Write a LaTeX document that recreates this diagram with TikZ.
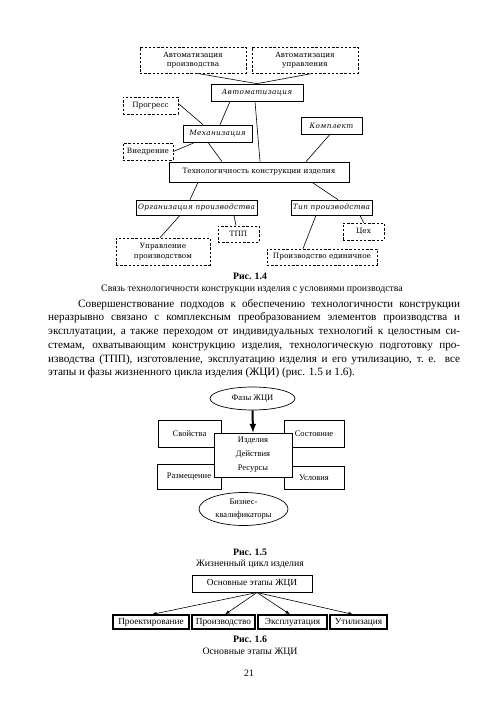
\documentclass[tikz,border=0pt]{standalone}
\usepackage{fontspec}
\setmainfont{Liberation Serif}
\newfontfamily\shemafont{DejaVu Serif}
\newfontfamily\razrfont[LetterSpace=5]{DejaVu Serif}
\usepackage{tikz}
\usetikzlibrary{shapes.geometric, arrows}

\begin{document}
\begin{tikzpicture}[x=1pt, y=-1pt]
        \tikzstyle{every node} = [inner sep=0pt]
        \tikzstyle{blok}       = [draw, line width=0.7pt, align=center, font=\shemafont\fontsize{7.3}{9.5}\selectfont]
        \tikzstyle{kursiv}     = [blok, font=\razrfont\itshape\fontsize{7.3}{9}\selectfont]
        \tikzstyle{punktir}    = [blok, dash pattern=on 2.4pt off 1.8pt]
        \tikzstyle{svyaz}      = [line width=0.6pt]
        \tikzstyle{ramka}      = [draw, line width=0.7pt, fill=white, align=center, font=\fontsize{8.5}{14}\selectfont]
        \tikzstyle{oval}       = [ramka, ellipse]
        \tikzstyle{etap}       = [ramka, line width=1.2pt, font=\fontsize{9.3}{11}\selectfont]
        \def\podpis{\fontsize{9.8}{11}\selectfont}

        \useasboundingbox[fill=white] (0,0) rectangle (500,708);

        % Рис. 1.4
        \node[punktir, minimum width=106, minimum height=26] (avtpr)  at (193,60)      {Автоматизация\\производства};
        \node[punktir, minimum width=106, minimum height=26] (avtupr) at (305,60)      {Автоматизация\\управления};
        \node[kursiv,  minimum width=92,  minimum height=17] (avt)    at (257,92.5)    {Автоматизация};
        \node[punktir, minimum width=55,  minimum height=17] (progr)  at (150.5,105.5) {Прогресс};
        \node[kursiv,  minimum width=69,  minimum height=17] (mech)   at (217.5,133.5) {Механизация};
        \node[kursiv,  minimum width=61,  minimum height=17] (kompl)  at (331.5,125.5) {Комплект};
        \node[punktir, minimum width=50,  minimum height=17] (vnedr)  at (148,151.5)   {Внедрение};
        \node[blok,    minimum width=180, minimum height=20] (tech)   at (259,172)     {Технологичность конструкции изделия};
        \node[kursiv,  minimum width=121, minimum height=15] (org)    at (196.5,207.5) {Организация производства};
        \node[kursiv,  minimum width=81,  minimum height=15] (tip)    at (331.5,207.5) {Тип производства};
        \node[punktir, minimum width=41,  minimum height=16] (tpp)    at (238.5,234)   {ТПП};
        \node[punktir, minimum width=94,  minimum height=27] (upr)    at (163,251.5)   {Управление\\производством};
        \node[punktir, minimum width=41,  minimum height=17] (cekh)   at (363.5,231.5) {Цех};
        \node[punktir, minimum width=110, minimum height=16] (edin)   at (322,257)     {Производство единичное};

        \draw[svyaz] ([xshift=4]avtpr.south) -- (avt.north);
        \draw[svyaz] ([xshift=8]avtupr.south) -- (avt.north);
        \draw[svyaz] ([yshift=2]progr.east) -- ([xshift=-14.5]mech.north);
        \draw[svyaz] ([xshift=2.5]mech.north) -- ([xshift=-27]avt.south);
        \draw[svyaz] ([xshift=-2]avt.south) -- ([xshift=1]tech.north);
        \draw[svyaz] (vnedr.east) -- ([xshift=-22.5]mech.south);
        \draw[svyaz] ([xshift=-9.5]mech.south) -- ([xshift=-37]tech.north);
        \draw[svyaz] ([xshift=-1.5]kompl.south) -- ([xshift=47]tech.north);
        \draw[svyaz] ([xshift=-61]tech.south) -- ([xshift=-6.5]org.north);
        \draw[svyaz] ([xshift=53]tech.south) -- ([xshift=6.5]tip.north);
        \draw[svyaz] ([xshift=-16.5]org.south) -- ([xshift=-3]upr.north);
        \draw[svyaz] ([xshift=37.5]org.south) -- ([xshift=-2.5]tpp.north);
        \draw[svyaz] ([xshift=-15.5]tip.south) -- ([xshift=-19]edin.north);
        \draw[svyaz] ([xshift=28.5]tip.south) -- (cekh.north);

        \node[font=\podpis\bfseries] (ris4) at (250,276) {Рис. 1.4};
        \node[font=\podpis] (nazv4) at (252,289) {Связь технологичности конструкции изделия с условиями производства};

        % Текст
        \node[anchor=north west, text width=412pt, align=justify, font=\fontsize{11.2}{13.7}\selectfont] (tekst) at (48,299)
            {\hyphenpenalty=10000\hspace*{30pt}Совершенствование подходов к обеспечению технологичности конструкции\linebreak
            неразрывно связано с комплексным преобразованием элементов производства и\linebreak
            эксплуатации, а также переходом от индивидуальных технологий к целостным си-\linebreak
            стемам, охватывающим конструкцию изделия, технологическую подготовку про-\linebreak
            изводства (ТПП), изготовление, эксплуатацию изделия и его утилизацию, т.~е. все\linebreak
            этапы и фазы жизненного цикла изделия (ЖЦИ) (рис. 1.5 и 1.6).};

        % Рис. 1.5
        \node[ramka, minimum width=63, minimum height=27] (svoj)  at (189.5,433.5) {Свойства};
        \node[ramka, minimum width=60, minimum height=27] (sost)  at (314,433.5)   {Состояние};
        \node[ramka, minimum width=64, minimum height=25] (razm)  at (189,476.5)   {Размещение};
        \node[ramka, minimum width=60, minimum height=23] (usl)   at (314,477.5)   {Условия};
        \node[ramka, minimum width=78, minimum height=44] (izd)   at (253,455)     {Изделия\\Действия\\Ресурсы};
        \node[oval,  minimum width=85, minimum height=23] (fazy)  at (252.5,398.5) {Фазы ЖЦИ};
        \node[oval,  minimum width=89, minimum height=33, font=\fontsize{8.5}{13}\selectfont] (biz) at (243.5,509) {Бизнес-\\квалификаторы};
        \draw[line width=2pt, -latex] (fazy.south) -- (izd.north);

        \node[font=\podpis\bfseries] (ris5) at (250,552) {Рис. 1.5};
        \node[font=\podpis] (nazv5) at (250,564) {Жизненный цикл изделия};

        % Рис. 1.6
        \node[etap, line width=1pt, minimum width=120, minimum height=17] (osn) at (252,583.5) {Основные этапы ЖЦИ};
        \node[etap, minimum width=76, minimum height=14] (proekt) at (151,622)   {Проектирование};
        \node[etap, minimum width=63, minimum height=14] (proizv) at (223.5,622) {Производство};
        \node[etap, minimum width=69, minimum height=14] (ekspl)  at (292.5,622) {Эксплуатация};
        \node[etap, minimum width=57, minimum height=14] (util)   at (358.5,622) {Утилизация};
        \foreach \e/\dx in {proekt/1, proizv/1.5, ekspl/-2.5, util/-5.5}
            \draw[svyaz, -latex] ([xshift=5]osn.south) -- ([xshift=\dx]\e.north);

        \node[font=\podpis\bfseries] (ris6) at (250,639) {Рис. 1.6};
        \node[font=\podpis] (nazv6) at (250,652) {Основные этапы ЖЦИ};
        \node[font=\podpis] (str) at (249,673) {21};
    \end{tikzpicture}
\end{document}
